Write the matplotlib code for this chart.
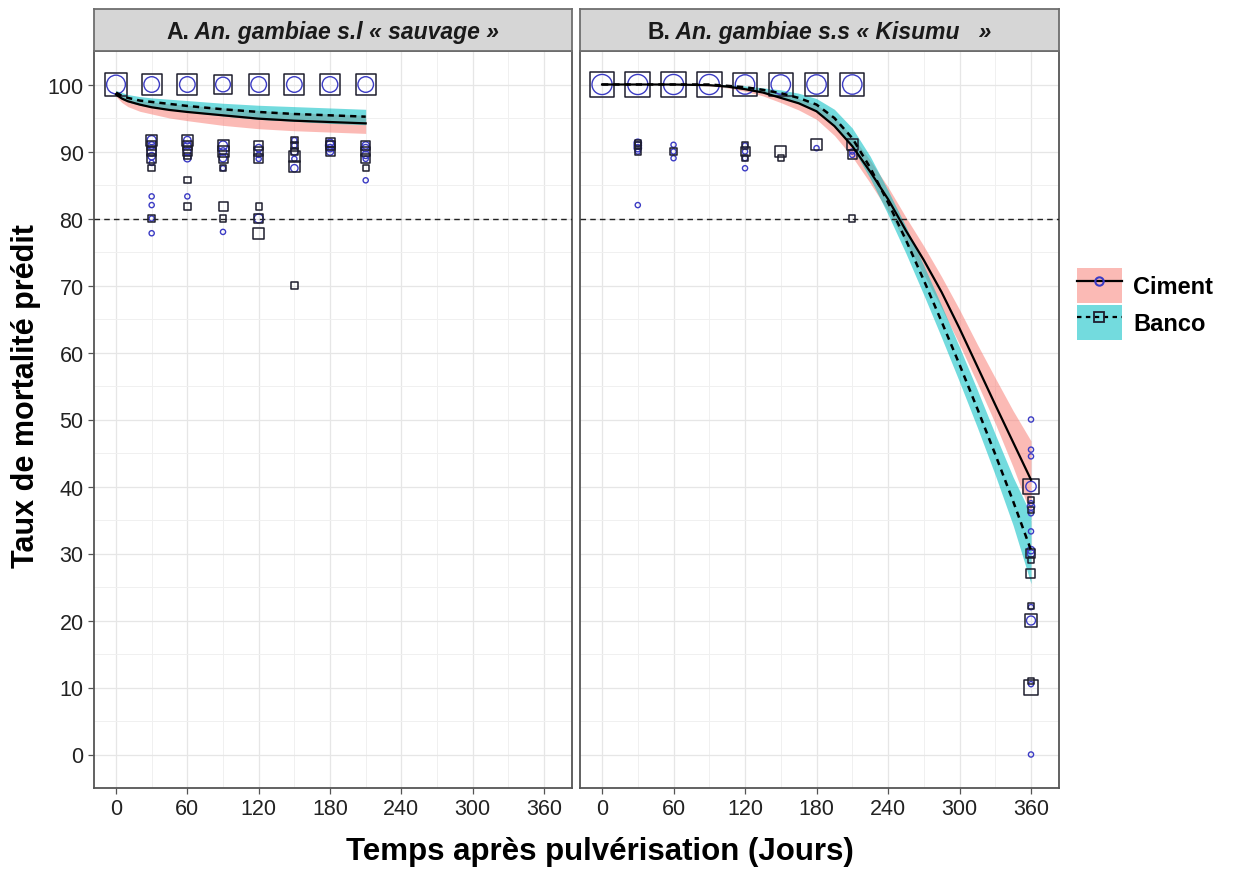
import numpy as np
import matplotlib
matplotlib.use("Agg")
import matplotlib.pyplot as plt
from matplotlib.lines import Line2D
from matplotlib.patches import Patch
from matplotlib.legend_handler import HandlerTuple

plt.rcParams['font.family'] = ['Liberation Sans', 'DejaVu Sans']

""" Data """
panel_titles = [("A.", " An. gambiae s.l « sauvage »"),
                ("B.", " An. gambiae s.s « Kisumu   »")]
legend_labels = ["Ciment", "Banco"]
x_ticks = [0, 60, 120, 180, 240, 300, 360]
y_ticks = [0, 10, 20, 30, 40, 50, 60, 70, 80, 90, 100]
seuil = 80

# courbes predites - panel A
t_curve_A = [0, 5, 10, 20, 30, 45, 60, 90, 120, 150, 180, 210]
ciment_A = [98.5, 97.9, 97.5, 97.0, 96.6, 96.2, 95.9, 95.4, 94.9, 94.6, 94.4, 94.2]
ciment_A_lo = [98.2, 97.3, 96.7, 96.0, 95.6, 95.0, 94.6, 93.9, 93.4, 93.1, 92.9, 92.7]
ciment_A_hi = [98.8, 98.3, 98.0, 97.6, 97.4, 97.1, 96.9, 96.5, 96.1, 95.8, 95.6, 95.4]
banco_A = [98.8, 98.3, 98.0, 97.6, 97.4, 97.1, 96.8, 96.3, 95.9, 95.6, 95.4, 95.2]
banco_A_lo = [98.5, 97.8, 97.4, 96.9, 96.6, 96.2, 95.9, 95.3, 94.8, 94.5, 94.2, 94.0]
banco_A_hi = [99.1, 98.8, 98.5, 98.2, 98.0, 97.8, 97.6, 97.2, 96.9, 96.7, 96.5, 96.3]

# courbes predites - panel B
t_curve_B = [0, 30, 60, 90, 105, 120, 135, 150, 165, 180, 195, 210, 225, 240,
             255, 270, 285, 300, 315, 330, 345, 360]
ciment_B = [100, 100, 100, 99.9, 99.7, 99.3, 98.8, 98.0, 97.2, 96.0, 93.8, 90.8,
            87.0, 82.9, 78.2, 73.8, 69.0, 63.6, 57.9, 52.2, 46.6, 41.0]
ciment_B_lo = [100, 100, 100, 99.8, 99.5, 99.0, 98.3, 97.3, 96.2, 94.8, 92.4, 89.2,
               85.3, 81.1, 76.4, 71.6, 66.6, 61.2, 55.4, 49.4, 42.9, 35.8]
ciment_B_hi = [100, 100, 100, 100, 99.9, 99.6, 99.2, 98.6, 97.9, 97.0, 95.1, 92.3,
               88.7, 84.7, 80.2, 75.9, 71.3, 66.4, 61.2, 56.2, 51.3, 46.8]
banco_B = [100, 100, 100, 100, 99.8, 99.6, 99.2, 98.7, 98.0, 97.0, 95.0, 92.0,
           87.6, 82.4, 76.8, 70.8, 64.6, 58.2, 51.6, 44.8, 37.8, 30.5]
banco_B_lo = [100, 100, 100, 99.9, 99.6, 99.3, 98.8, 98.1, 97.2, 96.0, 93.8, 90.6,
              86.0, 80.6, 74.8, 68.6, 62.2, 55.6, 48.8, 41.7, 34.2, 25.5]
banco_B_hi = [100, 100, 100, 100, 100, 99.8, 99.5, 99.2, 98.7, 97.9, 96.3, 93.5,
              89.3, 84.2, 78.8, 73.0, 67.0, 60.8, 54.4, 47.8, 41.4, 35.8]

# observations (jour, mortalite, effectif) - panel A
obs_ciment_A_t = [0, 30, 60, 90, 120, 150, 180, 210,
                  30, 30, 30, 30, 30, 30, 30, 30, 30,
                  60, 60, 60, 60, 60,
                  90, 90, 90, 90, 90,
                  120, 120, 120, 120,
                  150, 150, 150, 150, 150,
                  180, 180, 180, 180,
                  210, 210, 210, 210, 210]
obs_ciment_A_y = [100, 100, 100, 100, 100, 100, 100, 100,
                  91.7, 90.9, 90, 89.3, 88.3, 83.3, 82, 80, 77.8,
                  91.7, 90.9, 90, 89, 83.3,
                  90.9, 90, 89, 87.5, 78,
                  90.5, 89.5, 88.9, 80,
                  91.7, 90.9, 90, 88.9, 87.5,
                  91.3, 90.9, 90.5, 90,
                  90.9, 90.5, 89.5, 88.9, 85.7]
obs_ciment_A_n = [13, 9, 9, 8, 9, 9, 9, 9,
                  3, 2, 3, 2, 1, 1, 1, 1, 1,
                  2, 2, 2, 2, 1,
                  3, 2, 2, 1, 1,
                  2, 1, 1, 3,
                  1, 1, 2, 1, 2,
                  2, 3, 2, 2,
                  2, 2, 2, 1, 1]

obs_banco_A_t = [0, 30, 60, 90, 120, 150, 180, 210,
                 30, 30, 30, 30, 30, 30,
                 60, 60, 60, 60, 60, 60,
                 90, 90, 90, 90, 90, 90,
                 120, 120, 120, 120, 120, 120,
                 150, 150, 150, 150, 150, 150,
                 180, 180, 180,
                 210, 210, 210, 210]
obs_banco_A_y = [100, 100, 100, 100, 100, 100, 100, 100,
                 91.7, 90.9, 90, 88.9, 87.5, 80,
                 91.7, 90.9, 90, 89.3, 85.7, 81.8,
                 90.9, 90, 88.9, 87.5, 81.8, 80,
                 90.9, 90, 88.9, 81.8, 80, 77.8,
                 91.7, 90.9, 90, 89.3, 87.8, 70,
                 91.3, 90.9, 90,
                 90.9, 90, 88.9, 87.5]
obs_banco_A_n = [13, 10, 10, 8, 10, 10, 10, 10,
                 3, 2, 2, 2, 1, 1,
                 3, 2, 2, 1, 1, 1,
                 3, 3, 2, 1, 2, 1,
                 2, 2, 2, 1, 2, 3,
                 1, 1, 1, 3, 3, 1,
                 2, 2, 2,
                 2, 2, 2, 1]

# observations - panel B
obs_ciment_B_t = [0, 30, 60, 90, 120, 150, 180, 210,
                  30, 30, 30, 30, 30,
                  60, 60, 60,
                  120, 120, 120, 120,
                  180,
                  210, 210,
                  360, 360, 360, 360, 360, 360, 360, 360, 360, 360, 360, 360, 360, 360]
obs_ciment_B_y = [100, 100, 100, 100, 100, 100, 100, 100,
                  91.3, 90.9, 90.5, 90, 82,
                  91, 90, 89,
                  90.9, 90, 89, 87.5,
                  90.5,
                  90, 89.5,
                  50, 45.5, 44.5, 40, 37.5, 37, 36, 33.3, 30.5, 30, 22, 20, 10.5, 0]
obs_ciment_B_n = [15, 15, 15, 15, 14, 14, 14, 14,
                  2, 2, 2, 1, 1,
                  1, 1, 1,
                  1, 1, 1, 1,
                  1,
                  1, 1,
                  1, 1, 1, 4, 1, 2, 1, 1, 2, 2, 1, 3, 1, 1]

obs_banco_B_t = [0, 30, 60, 90, 120, 150, 180, 210,
                 30, 30, 30,
                 60,
                 120, 120, 120,
                 150, 150,
                 180,
                 210, 210, 210,
                 360, 360, 360, 360, 360, 360, 360, 360, 360, 360]
obs_banco_B_y = [100, 100, 100, 100, 100, 100, 100, 100,
                 91.3, 90.9, 90,
                 90,
                 90.9, 90, 89,
                 90, 89,
                 91,
                 91, 89.5, 80,
                 40, 38, 36.5, 30, 29, 27, 22.2, 20, 11, 10]
obs_banco_B_n = [15, 15, 15, 15, 14, 14, 14, 14,
                 1, 1, 1,
                 1,
                 1, 2, 1,
                 3, 1,
                 3,
                 3, 2, 1,
                 6, 1, 1, 2, 1, 2, 1, 4, 1, 5]

""" Style """
PINK = '#F8766D'
TEAL = '#00BFC4'
CIRC = '#3B3BC4'
SQR = '#1E1E2E'
FRAME = '#555555'


def draw_panel(ax, t, c, c_lo, c_hi, b, b_lo, b_hi,
               ct, cy, cn, bt, by, bn):
    ax.set_xlim(-18.5, 383.5)
    ax.set_ylim(-5, 105)
    ax.set_xticks(x_ticks)
    ax.set_xticks(range(30, 361, 60), minor=True)
    ax.set_yticks(y_ticks)
    ax.set_yticks(range(5, 100, 10), minor=True)
    ax.grid(True, which='major', color='#E6E6E6', lw=0.9)
    ax.grid(True, which='minor', color='#F0F0F0', lw=0.7)
    ax.set_axisbelow(True)
    ax.tick_params(axis='both', which='major', length=4, color=FRAME,
                   labelsize=15.5, labelcolor='#222222', width=0.9)
    ax.tick_params(axis='both', which='minor', length=0)
    for s in ax.spines.values():
        s.set_color(FRAME)
        s.set_linewidth(1.3)

    ax.fill_between(t, c_lo, c_hi, color=PINK, alpha=0.5, lw=0, zorder=2)
    ax.fill_between(t, b_lo, b_hi, color=TEAL, alpha=0.55, lw=0, zorder=2)
    ax.axhline(seuil, color='#222222', lw=1.0, ls=(0, (4, 3)), zorder=3)

    ax.scatter(ct, cy, s=np.array(cn) * 14, marker='o', facecolors='none',
               edgecolors=CIRC, linewidths=1.0, zorder=4)
    ax.scatter(bt, by, s=np.array(bn) * 21, marker='s', facecolors='none',
               edgecolors=SQR, linewidths=1.1, zorder=4)

    ax.plot(t, c, color='black', lw=1.6, zorder=5)
    ax.plot(t, b, color='black', lw=1.8, ls=(0, (2.5, 2)), zorder=5)


fig = plt.figure(figsize=(12.4, 8.7), dpi=100)
axA = fig.add_axes([94 / 1240, 81 / 870, 478 / 1240, 737 / 870])
axB = fig.add_axes([580 / 1240, 81 / 870, 479 / 1240, 737 / 870])

draw_panel(axA, t_curve_A, ciment_A, ciment_A_lo, ciment_A_hi,
           banco_A, banco_A_lo, banco_A_hi,
           obs_ciment_A_t, obs_ciment_A_y, obs_ciment_A_n,
           obs_banco_A_t, obs_banco_A_y, obs_banco_A_n)
draw_panel(axB, t_curve_B, ciment_B, ciment_B_lo, ciment_B_hi,
           banco_B, banco_B_lo, banco_B_hi,
           obs_ciment_B_t, obs_ciment_B_y, obs_ciment_B_n,
           obs_banco_B_t, obs_banco_B_y, obs_banco_B_n)
axB.tick_params(axis='y', labelleft=False, length=0)

# bandeaux des facettes
fig.canvas.draw()
renderer = fig.canvas.get_renderer()
for ax, (lettre, espece) in zip([axA, axB], panel_titles):
    pos = ax.get_position()
    sax = fig.add_axes([pos.x0, 1 - 52 / 870, pos.width, 42 / 870])
    sax.set_facecolor('#D6D6D6')
    sax.set_xticks([])
    sax.set_yticks([])
    for s in sax.spines.values():
        s.set_color('#6E6E6E')
        s.set_linewidth(1.3)
    t1 = sax.text(0.5, 0.47, lettre, ha='left', va='center', fontsize=16.5,
                  fontweight='bold', color='#1A1A1A', transform=sax.transAxes)
    t2 = sax.annotate(espece, xy=(1, 0), xycoords=t1, va='bottom', ha='left',
                      fontsize=16.5, fontweight='bold', fontstyle='italic',
                      color='#1A1A1A')
    w1 = t1.get_window_extent(renderer).width
    w2 = t2.get_window_extent(renderer).width
    sw = sax.get_window_extent(renderer).width
    t1.set_x(0.5 - (w1 + w2) / 2 / sw)

fig.text(0.484, 0.004, "Temps après pulvérisation (Jours)", ha='center',
         va='bottom', fontsize=22.5, fontweight='bold')
fig.text(0.009, 0.545, "Taux de mortalité prédit", ha='left', va='center',
         rotation=90, fontsize=22, fontweight='bold')

handles = [
    (Patch(facecolor=PINK, alpha=0.5, lw=0),
     Line2D([], [], color='black', lw=1.6, marker='o', markersize=6,
            markerfacecolor='none', markeredgecolor=CIRC, markeredgewidth=1.5)),
    (Patch(facecolor=TEAL, alpha=0.55, lw=0),
     Line2D([], [], color='black', lw=1.6, ls=(0, (2, 2)), marker='s', markersize=7,
            markerfacecolor='none', markeredgecolor=SQR, markeredgewidth=1.3)),
]
fig.legend(handles, legend_labels,
           handler_map={tuple: HandlerTuple(ndivide=1, pad=0)},
           loc='center left', bbox_to_anchor=(1072 / 1240, 1 - 305 / 870),
           frameon=False, numpoints=1, handlelength=1.9, handleheight=1.9,
           labelspacing=0.05, handletextpad=0.5, borderpad=0.2,
           borderaxespad=0.0, prop={'size': 17, 'weight': 'bold'})

fig.savefig("out.png", dpi=100)
